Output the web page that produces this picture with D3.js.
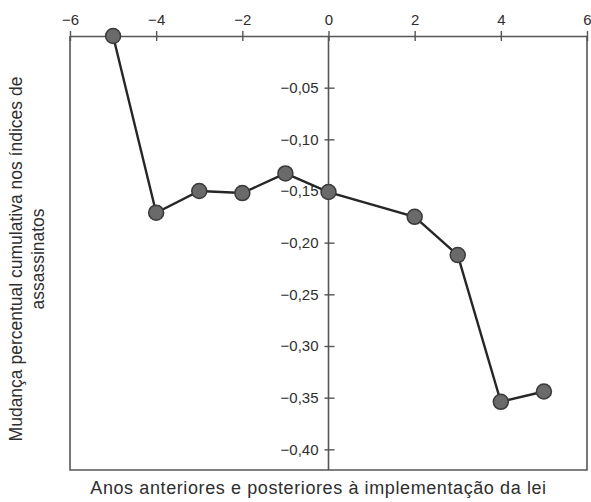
<!DOCTYPE html>
<html>
<head>
<meta charset="utf-8">
<script src="https://cdn.jsdelivr.net/npm/d3@7"></script>
<style>
  html, body { margin: 0; padding: 0; background: #fff; }
  svg { display: block; }
  text { font-family: "Liberation Sans", Arial, sans-serif; fill: #2e2e2e; }
</style>
</head>
<body>
<svg id="chart" width="591" height="502"></svg>
<script>
// Years relative to the law's implementation, and the cumulative change in homicide rates
const years = [-5, -4, -3, -2, -1, 0, 2, 3, 4, 5];
const change = [0.0, -0.171, -0.150, -0.152, -0.133, -0.151, -0.175, -0.212, -0.354, -0.344];
const xTicks = [-6, -4, -2, 0, 2, 4, 6];
const yTicks = [-0.05, -0.10, -0.15, -0.20, -0.25, -0.30, -0.35, -0.40];
const xTitle = "Anos anteriores e posteriores à implementação da lei";
const yTitle = ["Mudança percentual cumulativa nos índices de", "assassinatos"];

const svg = d3.select("#chart");
const plotLeft = 70, plotRight = 587, plotTop = 36, plotBottom = 470;

const x = d3.scaleLinear().domain([-6, 6]).range([plotLeft, plotRight]);
const y = d3.scaleLinear().domain([0, -0.42]).range([plotTop, plotBottom]);

const axisColor = "#555";
const fmt = v => (v < 0 ? "\u2212" : "") + Math.abs(v).toFixed(2).replace(".", ",");

// Frame: left, right and bottom sides
svg.append("path")
  .attr("d", `M${plotLeft},${plotTop} V${plotBottom} H${plotRight} V${plotTop}`)
  .attr("fill", "none")
  .attr("stroke", axisColor)
  .attr("stroke-width", 1.6);

// Top x axis along y = 0
const gx = svg.append("g")
  .attr("transform", `translate(0,${y(0)})`)
  .call(d3.axisTop(x).tickValues(xTicks).tickFormat(d => d < 0 ? "\u2212" + Math.abs(d) : d).tickSizeOuter(0));
gx.select(".domain").attr("stroke", axisColor).attr("stroke-width", 1.6);
gx.selectAll(".tick line")
  .attr("y1", 5).attr("y2", -5)
  .attr("stroke", axisColor).attr("stroke-width", 1.4);
gx.selectAll(".tick text")
  .attr("y", -11)
  .style("font-size", "15px")
  .style("fill", "#2e2e2e")
  .style("font-family", "'Liberation Sans', Arial, sans-serif");

// Vertical axis through x = 0
const gy = svg.append("g")
  .attr("transform", `translate(${x(0)},0)`)
  .call(d3.axisLeft(y).tickValues(yTicks).tickFormat(fmt).tickSizeOuter(0));
gy.select(".domain").attr("d", `M0,${y(0)}V${plotBottom}`).attr("stroke", axisColor).attr("stroke-width", 1.6);
gy.selectAll(".tick line")
  .attr("x1", -4).attr("x2", 6)
  .attr("stroke", axisColor).attr("stroke-width", 1.4);
gy.selectAll(".tick text")
  .attr("x", -10)
  .style("font-size", "15px")
  .style("fill", "#2e2e2e")
  .style("font-family", "'Liberation Sans', Arial, sans-serif");

// Data line and markers
const pts = years.map((yr, i) => [yr, change[i]]);
svg.append("path")
  .datum(pts)
  .attr("d", d3.line().x(d => x(d[0])).y(d => y(d[1])))
  .attr("fill", "none")
  .attr("stroke", "#262626")
  .attr("stroke-width", 2.4);

svg.append("g").selectAll("circle")
  .data(pts)
  .join("circle")
  .attr("cx", d => x(d[0]))
  .attr("cy", d => y(d[1]))
  .attr("r", 7.5)
  .attr("fill", "#6a6a6a")
  .attr("stroke", "#3a3a3a")
  .attr("stroke-width", 1.5);

// Axis titles
svg.append("text")
  .attr("x", (plotLeft + plotRight) / 2 - 10)
  .attr("y", 494)
  .attr("text-anchor", "middle")
  .style("font-size", "18px")
  .style("letter-spacing", "0.6px")
  .text(xTitle);

const yt = svg.append("text")
  .attr("transform", `translate(22,${(plotTop + plotBottom) / 2 + 6}) rotate(-90)`)
  .attr("text-anchor", "middle")
  .style("font-size", "17.5px");
yt.selectAll("tspan")
  .data(yTitle)
  .join("tspan")
  .attr("x", 0)
  .attr("dy", (d, i) => i === 0 ? 0 : 22)
  .text(d => d);
</script>
</body>
</html>
